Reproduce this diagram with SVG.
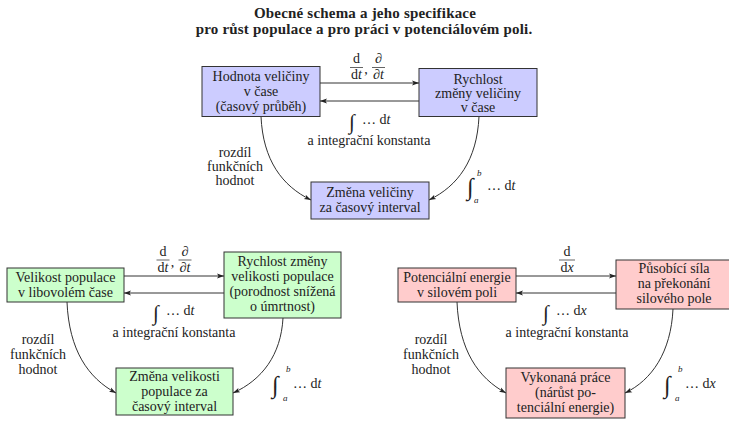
<svg xmlns="http://www.w3.org/2000/svg" width="729" height="421" viewBox="0 0 729 421">
<defs>
<marker id="ah" markerWidth="8" markerHeight="6" refX="7" refY="3" orient="auto" markerUnits="userSpaceOnUse">
<path d="M0,0.6 L7,3 L0,5.4 L1.6,3 z" fill="#222"/>
</marker>
</defs>
<style>
text{font-family:"Liberation Serif","Times New Roman",serif;font-size:14px;fill:#222;text-anchor:middle}
.title{font-weight:bold;font-size:15px;letter-spacing:0.2px}
.box{stroke:#333;stroke-width:1}
.blue{fill:#ccccff}
.green{fill:#ccffcc}
.red{fill:#ffcccc}
.c{fill:none;stroke:#333;stroke-width:1;marker-end:url(#ah)}
.fl{stroke:#222;stroke-width:0.7}
.st{text-anchor:start}
.it{font-style:italic}
.int{font-size:21px;text-anchor:start}
.intab{font-size:24px;text-anchor:start}
.lim{font-size:9px;font-style:italic;text-anchor:start}
</style>
<rect width="729" height="421" fill="#fff"/>
<g id="title">
<text class="title" x="365" y="18">Obecné schema a jeho specifikace</text>
<text class="title" x="364" y="34">pro růst populace a pro práci v potenciálovém poli.</text>
</g>

<g id="top-value">
<rect class="box blue" x="202" y="66.5" width="118" height="50"/>
<text x="261" y="81">Hodnota veličiny</text>
<text x="261" y="96">v čase</text>
<text x="261" y="111">(časový průběh)</text>
</g>
<g id="top-rate">
<rect class="box blue" x="419" y="68.5" width="118" height="48"/>
<text x="478" y="84">Rychlost</text>
<text x="478" y="98">změny veličiny</text>
<text x="478" y="112">v čase</text>
</g>
<g id="top-change">
<rect class="box blue" x="311" y="182" width="118" height="37"/>
<text x="370" y="197">Změna veličiny</text>
<text x="370" y="212">za časový interval</text>
</g>

<g id="pop-size">
<rect class="box green" x="7" y="268" width="117" height="34"/>
<text x="65.5" y="282">Velikost populace</text>
<text x="65.5" y="297">v libovolém čase</text>
</g>
<g id="pop-rate">
<rect class="box green" x="224" y="252" width="117" height="66"/>
<text x="282.5" y="266">Rychlost změny</text>
<text x="282.5" y="281">velikosti populace</text>
<text x="282.5" y="296">(porodnost snížená</text>
<text x="282.5" y="311">o úmrtnost)</text>
</g>
<g id="pop-change">
<rect class="box green" x="116" y="368" width="117" height="47"/>
<text x="174.5" y="381">Změna velikosti</text>
<text x="174.5" y="396">populace za</text>
<text x="174.5" y="411">časový interval</text>
</g>

<g id="pot-energy">
<rect class="box red" x="398" y="268" width="118" height="34"/>
<text x="457" y="282">Potenciální energie</text>
<text x="457" y="297">v silovém poli</text>
</g>
<g id="force">
<rect class="box red" x="616" y="260" width="117" height="49"/>
<text x="674" y="273">Působící síla</text>
<text x="674" y="288">na překonání</text>
<text x="674" y="303">silového pole</text>
</g>
<g id="work">
<rect class="box red" x="506" y="368" width="119" height="50"/>
<text x="565.5" y="382">Vykonaná práce</text>
<text x="565.5" y="397">(nárůst po-</text>
<text x="565.5" y="412">tenciální energie)</text>
</g>

<g id="connectors">
<path class="c" d="M320,83 L419,83"/>
<path class="c" d="M419,101 L320,101"/>
<path class="c" d="M261,116.5 C263,160 282,186 311,200"/>
<path class="c" d="M479,116.5 C477,160 458,186 429,200"/>
<path class="c" d="M124,276 L224,276"/>
<path class="c" d="M224,293 L124,293"/>
<path class="c" d="M67,302 C69,350 88,378 116,393"/>
<path class="c" d="M283,318 C281,355 262,380 233,393"/>
<path class="c" d="M516,276 L616,276"/>
<path class="c" d="M616,293 L516,293"/>
<path class="c" d="M457,302 C459,350 478,378 506,393"/>
<path class="c" d="M673,309 C671,352 652,380 625,393"/>
</g>

<g id="labels">
<text x="356.5" y="63">d</text>
<line class="fl" x1="350" y1="67.5" x2="363" y2="67.5"/>
<text x="356.5" y="79">d<tspan class="it">t</tspan></text>
<text x="366" y="74">,</text>
<text x="378.5" y="63">∂</text>
<line class="fl" x1="372" y1="67.5" x2="385" y2="67.5"/>
<text x="378.5" y="79">∂<tspan class="it">t</tspan></text>
<text class="int" x="349" y="129">∫</text>
<text class="st" x="362" y="124">… d<tspan class="it">t</tspan></text>
<text x="369" y="145">a integrační konstanta</text>
<text x="235" y="157">rozdíl</text>
<text x="235" y="171">funkčních</text>
<text x="235" y="185">hodnot</text>
<text class="intab" x="467" y="195">∫</text>
<text class="lim" x="477" y="176">b</text>
<text class="lim" x="474" y="203">a</text>
<text class="st" x="487" y="190">… d<tspan class="it">t</tspan></text>

<text x="163" y="255.5">d</text>
<line class="fl" x1="156.5" y1="260" x2="169.5" y2="260"/>
<text x="163" y="271.5">d<tspan class="it">t</tspan></text>
<text x="172.5" y="266.5">,</text>
<text x="185" y="255.5">∂</text>
<line class="fl" x1="178.5" y1="260" x2="191.5" y2="260"/>
<text x="185" y="271.5">∂<tspan class="it">t</tspan></text>
<text class="int" x="153" y="320">∫</text>
<text class="st" x="166" y="315">… d<tspan class="it">t</tspan></text>
<text x="174" y="337">a integrační konstanta</text>
<text x="38" y="344">rozdíl</text>
<text x="38" y="359">funkčních</text>
<text x="38" y="374">hodnot</text>
<text class="intab" x="272" y="393">∫</text>
<text class="lim" x="286" y="372">b</text>
<text class="lim" x="283" y="401">a</text>
<text class="st" x="293" y="388">… d<tspan class="it">t</tspan></text>

<text x="567" y="255.5">d</text>
<line class="fl" x1="559" y1="260" x2="575" y2="260"/>
<text x="567" y="271.5">d<tspan class="it">x</tspan></text>
<text class="int" x="543" y="320">∫</text>
<text class="st" x="556" y="315">… d<tspan class="it">x</tspan></text>
<text x="567" y="337">a integrační konstanta</text>
<text x="431" y="344">rozdíl</text>
<text x="431" y="359">funkčních</text>
<text x="431" y="374">hodnot</text>
<text class="intab" x="664" y="393">∫</text>
<text class="lim" x="678" y="372">b</text>
<text class="lim" x="675" y="401">a</text>
<text class="st" x="685" y="388">… d<tspan class="it">x</tspan></text>
</g>
</svg>
